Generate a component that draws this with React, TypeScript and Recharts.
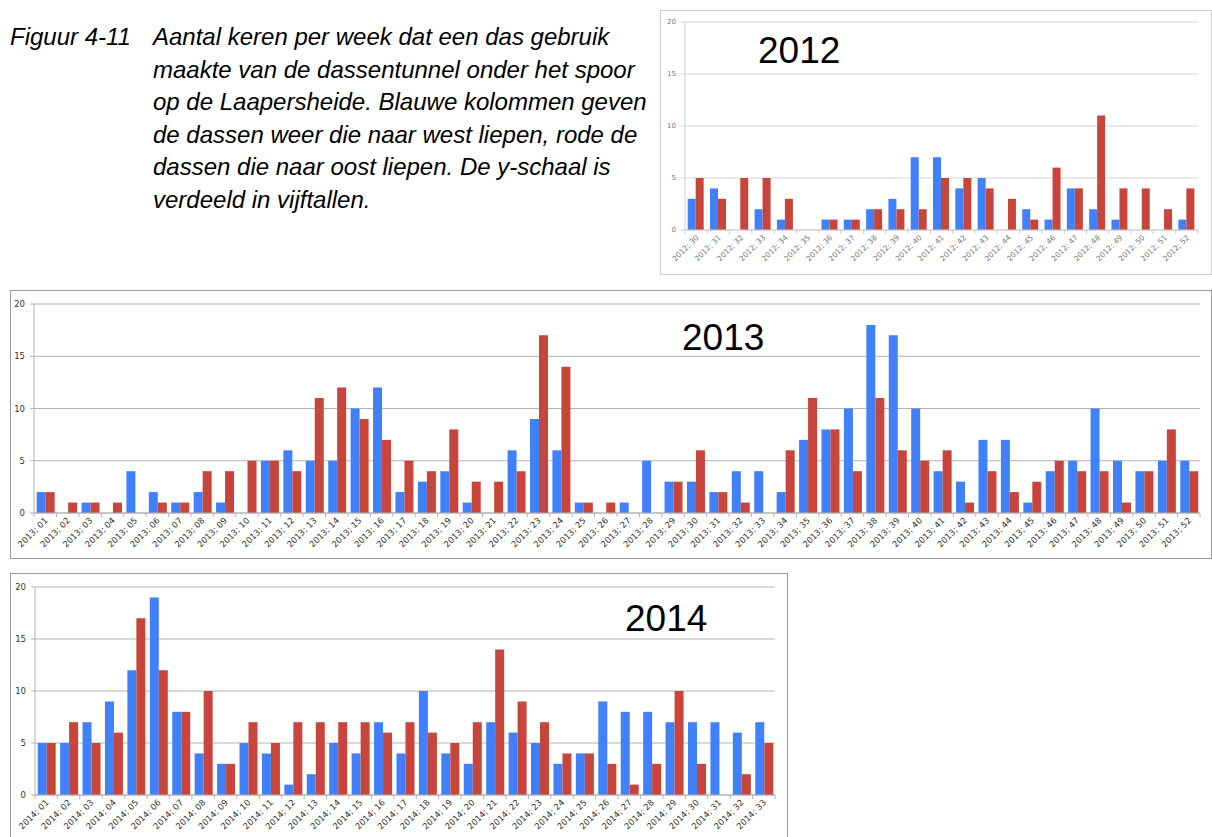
import React from 'react';
import { BarChart, Bar, XAxis, YAxis, CartesianGrid } from 'recharts';

const weeks2012 = ['2012; 30','2012; 31','2012; 32','2012; 33','2012; 34','2012; 35','2012; 36','2012; 37','2012; 38','2012; 39','2012; 40','2012; 41','2012; 42','2012; 43','2012; 44','2012; 45','2012; 46','2012; 47','2012; 48','2012; 49','2012; 50','2012; 51','2012; 52'];
const west2012 = [3,4,0,2,1,0,1,1,2,3,7,7,4,5,0,2,1,4,2,1,0,0,1];
const oost2012 = [5,3,5,5,3,0,1,1,2,2,2,5,5,4,3,1,6,4,11,4,4,2,4];

const weeks2013 = ['2013; 01','2013; 02','2013; 03','2013; 04','2013; 05','2013; 06','2013; 07','2013; 08','2013; 09','2013; 10','2013; 11','2013; 12','2013; 13','2013; 14','2013; 15','2013; 16','2013; 17','2013; 18','2013; 19','2013; 20','2013; 21','2013; 22','2013; 23','2013; 24','2013; 25','2013; 26','2013; 27','2013; 28','2013; 29','2013; 30','2013; 31','2013; 32','2013; 33','2013; 34','2013; 35','2013; 36','2013; 37','2013; 38','2013; 39','2013; 40','2013; 41','2013; 42','2013; 43','2013; 44','2013; 45','2013; 46','2013; 47','2013; 48','2013; 49','2013; 50','2013; 51','2013; 52'];
const west2013 = [2,0,1,0,4,2,1,2,1,0, 5,6,5,5,10,12,2,3,4,1, 0,6,9,6,1,0,1,5,3,3, 2,4,4,2,7,8,10,18,17,10, 4,3,7,7,1,4,5,10,5,4, 5,5];
const oost2013 = [2,1,1,1,0,1,1,4,4,5, 5,4,11,12,9,7,5,4,8,3, 3,4,17,14,1,1,0,0,3,6, 2,1,0,6,11,8,4,11,6,5, 6,1,4,2,3,5,4,4,1,4, 8,4];

const weeks2014 = ['2014; 01','2014; 02','2014; 03','2014; 04','2014; 05','2014; 06','2014; 07','2014; 08','2014; 09','2014; 10','2014; 11','2014; 12','2014; 13','2014; 14','2014; 15','2014; 16','2014; 17','2014; 18','2014; 19','2014; 20','2014; 21','2014; 22','2014; 23','2014; 24','2014; 25','2014; 26','2014; 27','2014; 28','2014; 29','2014; 30','2014; 31','2014; 32','2014; 33'];
const west2014 = [5,5,7,9,12,19,8,4,3,5, 4,1,2,5,4,7,4,10,4,3, 7,6,5,3,4,9,8,8,7,7, 7,6,7];
const oost2014 = [5,7,5,6,17,12,8,10,3,7, 5,7,7,7,7,6,7,6,5,7, 14,9,7,4,4,3,1,3,10,3, 0,2,5];

const yTicks = [0, 5, 10, 15, 20];

const captionHead = 'Figuur 4-11';
const captionLines = [
  'Aantal keren per week dat een das gebruik',
  'maakte van de dassentunnel onder het spoor',
  'op de Laapersheide. Blauwe kolommen geven',
  'de dassen weer die naar west liepen, rode de',
  'dassen die naar oost liepen. De y-schaal is',
  'verdeeld in vijftallen.',
];

const BLUE = '#4081fb';
const RED = '#c8453b';

type Rect = { left: number; top: number; right: number; bottom: number };

type ChartProps = {
  weeks: string[];
  west: number[];
  oost: number[];
  box: Rect;
  plot: Rect;
  xFont: number;
  yFont: number;
  labelColor: string;
  gridColor: string;
  axisColor: string;
  borderColor: string;
};

function WeekChart(p: ChartProps) {
  const data = p.weeks.map((w, i) => ({ week: w, west: p.west[i], oost: p.oost[i] }));
  const width = p.box.right - p.box.left;
  const height = p.box.bottom - p.box.top;
  const mTop = p.plot.top - p.box.top;
  const yW = p.plot.left - p.box.left;
  const mRight = p.box.right - p.plot.right;
  const plotH = p.plot.bottom - p.plot.top;
  const xH = height - mTop - plotH;
  const axisY = p.plot.bottom - p.box.top;
  const n = p.weeks.length;
  const bw = (p.plot.right - p.plot.left) / n;

  const renderTick = (props: any) => {
    const x = props.x;
    const idx = props.index ?? props.payload?.index ?? 0;
    const ax = x + 3;
    const ay = axisY + 8;
    return (
      <g key={'t' + idx}>
        <line x1={x - bw / 2} x2={x - bw / 2} y1={axisY} y2={axisY + 4} stroke={p.axisColor} />
        {idx === n - 1 ? (
          <line x1={x + bw / 2} x2={x + bw / 2} y1={axisY} y2={axisY + 4} stroke={p.axisColor} />
        ) : null}
        <text
          x={ax}
          y={ay}
          transform={`rotate(-45, ${ax}, ${ay})`}
          textAnchor="end"
          fontSize={p.xFont}
          fontFamily="DejaVu Sans, sans-serif"
          fill={p.labelColor}
        >
          {props.payload.value}
        </text>
      </g>
    );
  };

  return (
    <>
      <div
        style={{
          position: 'absolute',
          left: p.box.left,
          top: p.box.top,
          width: width,
          height: height,
          boxSizing: 'border-box',
          border: `1px solid ${p.borderColor}`,
        }}
      />
      <div style={{ position: 'absolute', left: p.box.left, top: p.box.top }}>
        <BarChart
          width={width}
          height={height}
          data={data}
          margin={{ top: mTop, right: mRight, bottom: 0, left: 0 }}
          barCategoryGap="12%"
          barGap={0}
        >
          <CartesianGrid vertical={false} stroke={p.gridColor} />
          <XAxis
            dataKey="week"
            interval={0}
            height={xH}
            tickLine={false}
            axisLine={{ stroke: p.axisColor }}
            tick={renderTick}
          />
          <YAxis
            width={yW}
            domain={[0, 20]}
            ticks={yTicks}
            interval={0}
            tickSize={4}
            tickMargin={5}
            axisLine={{ stroke: p.axisColor }}
            tickLine={{ stroke: p.axisColor }}
            tick={{ fontSize: p.yFont, fill: p.labelColor, fontFamily: 'DejaVu Sans, sans-serif' }}
          />
          <Bar dataKey="west" fill={BLUE} isAnimationActive={false} />
          <Bar dataKey="oost" fill={RED} isAnimationActive={false} />
        </BarChart>
      </div>
    </>
  );
}

export default function App() {
  const capFont = 'Liberation Sans, Arial, Helvetica, sans-serif';
  return (
    <div
      style={{
        position: 'absolute',
        left: 0,
        top: 0,
        width: 1212,
        height: 837,
        background: '#ffffff',
        overflow: 'hidden',
      }}
    >
      <WeekChart
        weeks={weeks2012}
        west={west2012}
        oost={oost2012}
        box={{ left: 660, top: 10, right: 1212, bottom: 275 }}
        plot={{ left: 685, top: 22, right: 1198, bottom: 230 }}
        xFont={7.5}
        yFont={7}
        labelColor="#777777"
        gridColor="#d4d4d4"
        axisColor="#cfcfcf"
        borderColor="#cccccc"
      />
      <WeekChart
        weeks={weeks2013}
        west={west2013}
        oost={oost2013}
        box={{ left: 10, top: 290, right: 1212, bottom: 559 }}
        plot={{ left: 34, top: 304, right: 1200, bottom: 513 }}
        xFont={8.5}
        yFont={8.5}
        labelColor="#333333"
        gridColor="#b3b3b3"
        axisColor="#b3b3b3"
        borderColor="#999999"
      />
      <WeekChart
        weeks={weeks2014}
        west={west2014}
        oost={oost2014}
        box={{ left: 10, top: 573, right: 788, bottom: 840 }}
        plot={{ left: 35, top: 587, right: 775, bottom: 795 }}
        xFont={8.5}
        yFont={8.5}
        labelColor="#333333"
        gridColor="#b3b3b3"
        axisColor="#b3b3b3"
        borderColor="#999999"
      />
      <svg
        width={1212}
        height={837}
        style={{ position: 'absolute', left: 0, top: 0, pointerEvents: 'none' }}
      >
        <text x={10} y={45} fontFamily={capFont} fontStyle="italic" fontSize={24} fill="#000">
          {captionHead}
        </text>
        {captionLines.map((line, i) => (
          <text
            key={i}
            x={153}
            y={45 + i * 32.6}
            fontFamily={capFont}
            fontStyle="italic"
            fontSize={24}
            fill="#000"
          >
            {line}
          </text>
        ))}
        <text x={758} y={63} fontFamily={capFont} fontSize={37} fill="#000">2012</text>
        <text x={682} y={350} fontFamily={capFont} fontSize={37} fill="#000">2013</text>
        <text x={625} y={631} fontFamily={capFont} fontSize={37} fill="#000">2014</text>
      </svg>
    </div>
  );
}
